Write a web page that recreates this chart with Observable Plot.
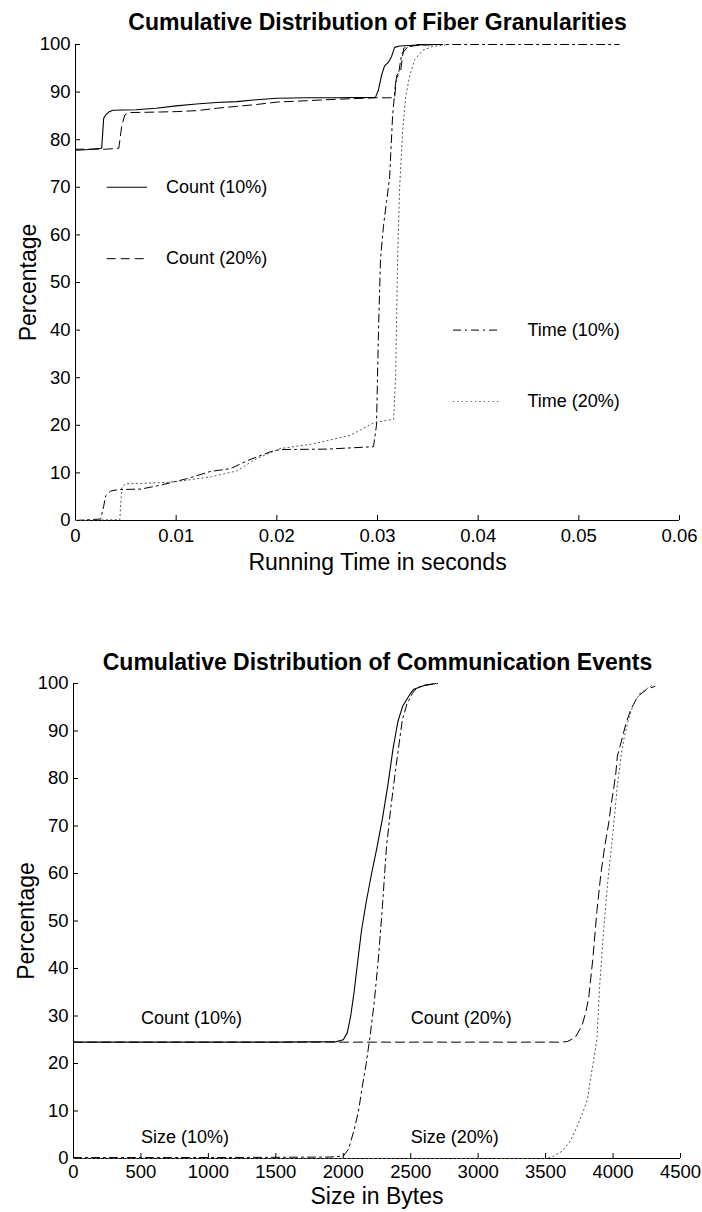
<!DOCTYPE html>
<html>
<head>
<meta charset="utf-8">
<script src="https://cdn.jsdelivr.net/npm/d3@7"></script>
<script src="https://cdn.jsdelivr.net/npm/@observablehq/plot@0.6"></script>
<style>
  html, body { margin: 0; padding: 0; background: white; }
  #page { position: relative; width: 702px; height: 1212px; font-family: "Liberation Sans", Arial, Helvetica, sans-serif; }
  .title { position: absolute; left: 75px; width: 605px; text-align: center; font-weight: bold; font-size: 23px; line-height: 26px; color: black; white-space: nowrap; }
  .chart { position: absolute; left: 0; }
</style>
</head>
<body>
<div id="page">
  <div class="title" id="t1" style="top:9px">Cumulative Distribution of Fiber Granularities</div>
  <div class="chart" id="c1" style="top:36px"></div>
  <div class="title" id="t2" style="top:649px">Cumulative Distribution of Communication Events</div>
  <div class="chart" id="c2" style="top:676px"></div>
</div>
<script>
// ---------- Chart 1: Fiber granularities ----------
const fiberXTicks = [0, 0.01, 0.02, 0.03, 0.04, 0.05, 0.06];
const fiberXTickLabels = ["0", "0.01", "0.02", "0.03", "0.04", "0.05", "0.06"];
const percentTicks = [0, 10, 20, 30, 40, 50, 60, 70, 80, 90, 100];

const fiberCount10X = [0, 0.001, 0.0026, 0.0028, 0.003, 0.0033, 0.0037, 0.006, 0.008, 0.010, 0.012, 0.014, 0.016, 0.018, 0.020, 0.023, 0.026, 0.0298, 0.0301, 0.0304, 0.0307, 0.0311, 0.0314, 0.0317, 0.0322, 0.034, 0.0358];
const fiberCount10Y = [77.8, 77.9, 78.2, 84.5, 85.2, 85.8, 86.2, 86.3, 86.6, 87.1, 87.5, 87.8, 88.0, 88.4, 88.7, 88.8, 88.8, 88.9, 90.5, 93.5, 95.5, 96.3, 97.5, 99.4, 99.7, 99.9, 100];

const fiberCount20X = [0, 0.003, 0.0043, 0.0046, 0.0049, 0.0053, 0.008, 0.010, 0.012, 0.014, 0.016, 0.018, 0.020, 0.023, 0.026, 0.0299, 0.0317, 0.0319, 0.0323, 0.0326, 0.033, 0.0345, 0.036];
const fiberCount20Y = [78.0, 78.0, 78.2, 83, 85.2, 85.7, 85.8, 85.9, 86.1, 86.6, 87.0, 87.4, 87.9, 88.2, 88.5, 88.8, 88.8, 93.5, 94.5, 99.2, 99.6, 99.9, 100];

const fiberTime10X = [0, 0.0025, 0.0028, 0.003, 0.0035, 0.0043, 0.0065, 0.0084, 0.0111, 0.0134, 0.0154, 0.0171, 0.0193, 0.0203, 0.025, 0.0296, 0.0299, 0.0301, 0.0303, 0.0306, 0.0309, 0.0312, 0.0315, 0.0318, 0.0321, 0.0324, 0.033, 0.034, 0.054];
const fiberTime10Y = [0, 0.3, 3, 5.2, 6.2, 6.5, 6.6, 7.4, 8.8, 10.3, 10.9, 12.6, 14.4, 14.9, 15.0, 15.5, 20, 40, 55, 62, 67, 72, 85, 92, 94, 98, 99.5, 100, 100];

const fiberTime20X = [0, 0.0044, 0.0046, 0.005, 0.0091, 0.0105, 0.0135, 0.016, 0.018, 0.0203, 0.0236, 0.0273, 0.0296, 0.0316, 0.0318, 0.032, 0.0322, 0.0325, 0.0328, 0.0332, 0.0337, 0.0345, 0.0355, 0.037];
const fiberTime20Y = [0, 0.2, 7.0, 7.7, 8.0, 8.3, 9.2, 10.4, 13, 15.1, 16.1, 17.9, 20.5, 21.3, 30, 55, 70, 82, 89, 93.5, 96.8, 98.8, 99.6, 100];

const fiberLegendNames = ["Count (10%)", "Count (20%)", "Time (10%)", "Time (20%)"];
const fiberLegendY = [70, 55, 40, 25];
const fiberLegendX1 = [0.0031, 0.0031, 0.0375, 0.0375];
const fiberLegendX2 = [0.0071, 0.0071, 0.0422, 0.0422];
const fiberLegendTextX = [0.009, 0.009, 0.0449, 0.0449];

// ---------- Chart 2: Communication events ----------
const commXTicks = [0, 500, 1000, 1500, 2000, 2500, 3000, 3500, 4000, 4500];

const commCount10X = [0, 500, 1000, 1500, 1950, 2000, 2030, 2055, 2080, 2105, 2135, 2170, 2210, 2250, 2290, 2330, 2370, 2405, 2440, 2493, 2523, 2600, 2686];
const commCount10Y = [24.5, 24.5, 24.5, 24.5, 24.6, 25, 26.5, 30, 35, 41, 48, 54, 60, 65.5, 71.5, 78.5, 86.5, 92, 95.2, 97.7, 98.8, 99.6, 100];

const commCount20X = [0, 1000, 2000, 3000, 3600, 3660, 3720, 3770, 3800, 3820, 3850, 3880, 3910, 3940, 3970, 3983, 4003, 4020, 4032, 4062, 4094, 4131, 4181, 4250, 4310];
const commCount20Y = [24.5, 24.5, 24.5, 24.5, 24.5, 24.6, 25.5, 28, 31, 34, 42, 52, 60, 66, 71, 74, 77.6, 81, 84.7, 87.9, 91.4, 94.5, 97.2, 98.8, 99.4];

const commSize10X = [0, 1000, 1900, 2000, 2040, 2080, 2113, 2140, 2170, 2200, 2230, 2260, 2290, 2320, 2350, 2387, 2437, 2470, 2510, 2548, 2620, 2700];
const commSize10Y = [0.2, 0.2, 0.3, 0.5, 2, 6, 10, 15, 20, 26, 33, 42, 53, 65.5, 73.3, 81.7, 92.2, 95.5, 97.8, 99.2, 99.7, 100];

const commSize20X = [0, 1000, 2000, 3000, 3500, 3560, 3620, 3680, 3730, 3780, 3810, 3840, 3880, 3900, 3930, 3960, 4003, 4030, 4060, 4085, 4120, 4150, 4200, 4290];
const commSize20Y = [0, 0, 0, 0, 0, 0.5, 1.5, 3.5, 6.5, 10, 12.5, 18, 25, 36, 48, 58, 69.7, 78, 85, 89, 93, 95.5, 98, 99.6];

const commLabelNames = ["Count (10%)", "Count (20%)", "Size (10%)", "Size (20%)"];
const commLabelX = [500, 2500, 500, 2500];
const commLabelY = [29.5, 29.5, 4.5, 4.5];

// ---------- shared ----------
const seriesStyles = [
  {dash: null, stroke: "black", width: 1.1},
  {dash: "9,5", stroke: "black", width: 1},
  {dash: "8,4,2,4", stroke: "black", width: 1},
  {dash: "1.2,3.2", stroke: "#555", width: 1}
];
const zip = (xs, ys) => xs.map((x, i) => [x, ys[i]]);
const FONT = '"Liberation Sans", Arial, Helvetica, sans-serif';

function seriesLine(xs, ys, s) {
  return Plot.line(zip(xs, ys), {stroke: s.stroke, strokeWidth: s.width, strokeDasharray: s.dash});
}

function frameMarks(xTicks, yTicks, xFormat, plotW, plotH, xLabel, xLabelDy, xPad) {
  return [
    Plot.ruleY([0], {stroke: "black", strokeWidth: 1}),
    Plot.ruleX([0], {stroke: "black", strokeWidth: 1}),
    Plot.tickX(xTicks, {x: d => d, insetTop: plotH - 5, stroke: "black"}),
    Plot.tickY(yTicks, {y: d => d, insetRight: plotW - 5, stroke: "black"}),
    Plot.axisX(xTicks, {tickSize: 0, tickPadding: xPad, label: null, tickFormat: xFormat, fontSize: 18.5}),
    Plot.axisY(yTicks, {tickSize: 0, tickPadding: 5, label: null, fontSize: 18.5}),
    Plot.text([xLabel], {frameAnchor: "bottom", lineAnchor: "middle", textAnchor: "middle", dy: xLabelDy, fontSize: 23, fill: "black"}),
    Plot.text(["Percentage"], {frameAnchor: "left", textAnchor: "middle", lineAnchor: "middle", dx: -47, rotate: -90, fontSize: 23, fill: "black"})
  ];
}

// Chart 1
{
  const W = 702, H = 544, mL = 75, mR = 23, mT = 8, mB = 60;
  const plotW = W - mL - mR, plotH = H - mT - mB;
  const fmt = (d) => fiberXTickLabels[fiberXTicks.indexOf(d)] ?? String(d);
  const legendRows = fiberLegendNames.map((n, i) => ({n, i, y: fiberLegendY[i], x1: fiberLegendX1[i], x2: fiberLegendX2[i], tx: fiberLegendTextX[i]}));
  const chart = Plot.plot({
    width: W, height: H, marginLeft: mL, marginRight: mR, marginTop: mT, marginBottom: mB,
    style: {fontFamily: FONT, fontSize: "18px", color: "black", background: "white", overflow: "visible"},
    x: {domain: [0, 0.06]},
    y: {domain: [0, 100]},
    marks: [
      ...frameMarks(fiberXTicks, percentTicks, fmt, plotW, plotH, "Running Time in seconds", 42, 8),
      seriesLine(fiberCount10X, fiberCount10Y, seriesStyles[0]),
      seriesLine(fiberCount20X, fiberCount20Y, seriesStyles[1]),
      seriesLine(fiberTime10X, fiberTime10Y, seriesStyles[2]),
      seriesLine(fiberTime20X, fiberTime20Y, seriesStyles[3]),
      ...legendRows.map(r => Plot.link([r], {x1: "x1", x2: "x2", y1: "y", y2: "y", stroke: seriesStyles[r.i].stroke, strokeWidth: seriesStyles[r.i].width, strokeDasharray: seriesStyles[r.i].dash})),
      Plot.text(legendRows, {x: "tx", y: "y", text: "n", textAnchor: "start", fontSize: 18, fill: "black"})
    ]
  });
  document.getElementById("c1").appendChild(chart);
}

// Chart 2
{
  const W = 702, H = 536, mL = 73, mR = 22, mT = 7, mB = 54;
  const plotW = W - mL - mR, plotH = H - mT - mB;
  const labelRows = commLabelNames.map((n, i) => ({n, x: commLabelX[i], y: commLabelY[i]}));
  const chart = Plot.plot({
    width: W, height: H, marginLeft: mL, marginRight: mR, marginTop: mT, marginBottom: mB,
    style: {fontFamily: FONT, fontSize: "18px", color: "black", background: "white", overflow: "visible"},
    x: {domain: [0, 4500]},
    y: {domain: [0, 100]},
    marks: [
      ...frameMarks(commXTicks, percentTicks, d => String(d), plotW, plotH, "Size in Bytes", 38, 6),
      seriesLine(commCount10X, commCount10Y, seriesStyles[0]),
      seriesLine(commCount20X, commCount20Y, seriesStyles[1]),
      seriesLine(commSize10X, commSize10Y, seriesStyles[2]),
      seriesLine(commSize20X, commSize20Y, seriesStyles[3]),
      Plot.text(labelRows, {x: "x", y: "y", text: "n", textAnchor: "start", fontSize: 18, fill: "black"})
    ]
  });
  document.getElementById("c2").appendChild(chart);
}
</script>
</body>
</html>
